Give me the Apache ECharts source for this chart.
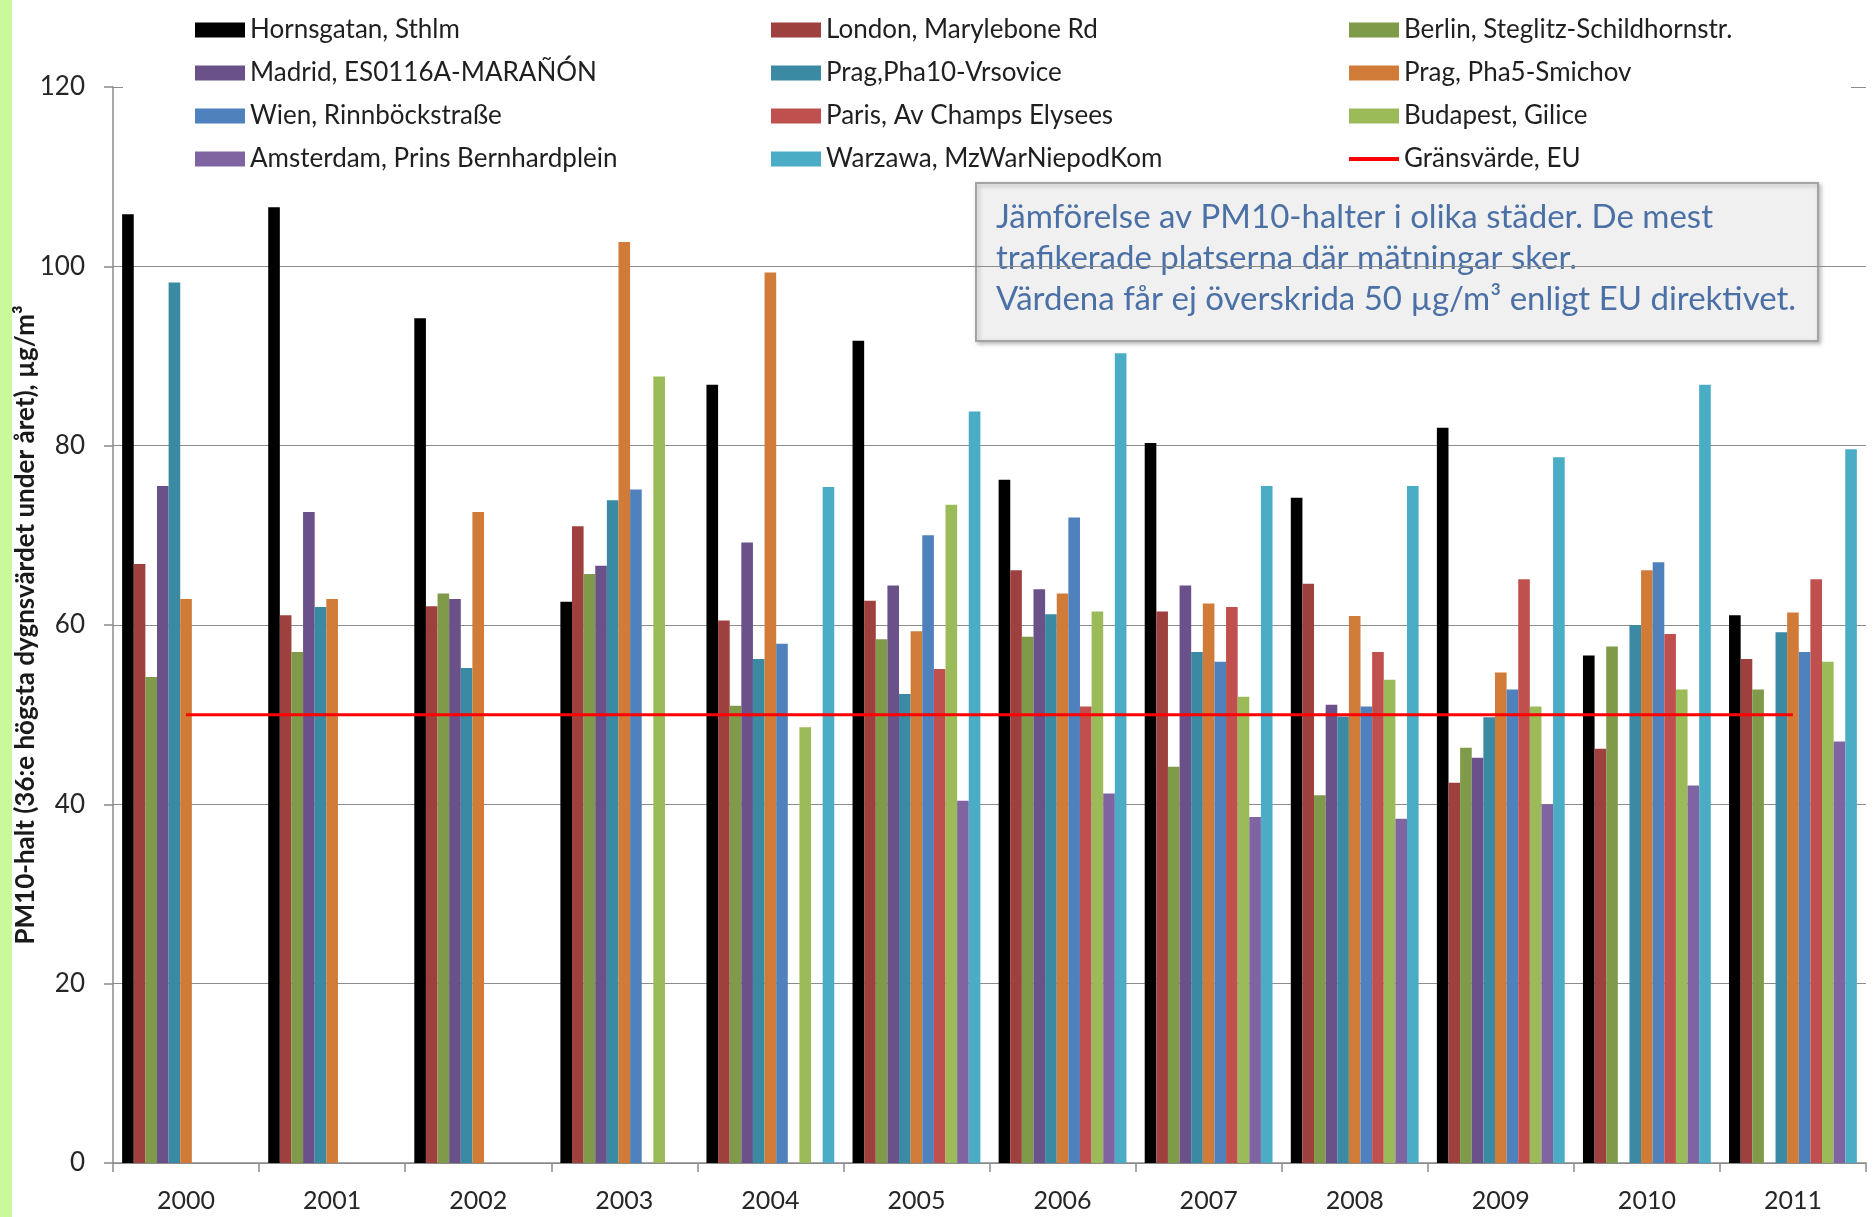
<!DOCTYPE html>
<html>
<head>
<meta charset="utf-8">
<script src="https://cdn.jsdelivr.net/npm/echarts@6/dist/echarts.min.js"></script>
<style>
  html, body { margin: 0; padding: 0; background: #fff; }
  #chart { width: 1874px; height: 1217px; }
</style>
</head>
<body>
<div id="chart"></div>
<script>
// PM10: 36th highest daily mean per year, µg/m³, at the most trafficked sites
const years = ['2000','2001','2002','2003','2004','2005','2006','2007','2008','2009','2010','2011'];

const hornsgatan = [105.8, 106.6, 94.2, 62.6, 86.8, 91.7, 76.2, 80.3, 74.2, 82.0, 56.6, 61.1];
const london     = [66.8, 61.1, 62.1, 71.0, 60.5, 62.7, 66.1, 61.5, 64.6, 42.4, 46.2, 56.2];
const berlin     = [54.2, 57.0, 63.5, 65.7, 51.0, 58.4, 58.7, 44.2, 41.0, 46.3, 57.6, 52.8];
const madrid     = [75.5, 72.6, 62.9, 66.6, 69.2, 64.4, 64.0, 64.4, 51.1, 45.2, null, null];
const pragPha10  = [98.2, 62.0, 55.2, 73.9, 56.2, 52.3, 61.2, 57.0, 49.8, 49.7, 60.0, 59.2];
const pragPha5   = [62.9, 62.9, 72.6, 102.7, 99.3, 59.3, 63.5, 62.4, 61.0, 54.7, 66.1, 61.4];
const wien       = [null, null, null, 75.1, 57.9, 70.0, 72.0, 55.9, 50.9, 52.8, 67.0, 57.0];
const paris      = [null, null, null, null, null, 55.1, 50.9, 62.0, 57.0, 65.1, 59.0, 65.1];
const budapest   = [null, null, null, 87.7, 48.6, 73.4, 61.5, 52.0, 53.9, 50.9, 52.8, 55.9];
const amsterdam  = [null, null, null, null, null, 40.4, 41.2, 38.6, 38.4, 40.0, 42.1, 47.0];
const warzawa    = [null, null, null, null, 75.4, 83.8, 90.3, 75.5, 75.5, 78.7, 86.8, 79.6];
const limitEU    = [50, 50, 50, 50, 50, 50, 50, 50, 50, 50, 50, 50];

const yTicks = [0, 20, 40, 60, 80, 100, 120];

const barSeries = [
  { name: 'Hornsgatan, Sthlm',               data: hornsgatan, color: '#000000' },
  { name: 'London, Marylebone Rd',           data: london,     color: '#9e413e' },
  { name: 'Berlin, Steglitz-Schildhornstr.', data: berlin,     color: '#7f9a48' },
  { name: 'Madrid, ES0116A-MARAÑÓN',         data: madrid,     color: '#6a5189' },
  { name: 'Prag,Pha10-Vrsovice',             data: pragPha10,  color: '#3a8aa3' },
  { name: 'Prag, Pha5-Smichov',              data: pragPha5,   color: '#d07c38' },
  { name: 'Wien, Rinnböckstraße',            data: wien,       color: '#4f81bd' },
  { name: 'Paris, Av Champs Elysees',        data: paris,      color: '#c0504d' },
  { name: 'Budapest, Gilice',                data: budapest,   color: '#9bbb59' },
  { name: 'Amsterdam, Prins Bernhardplein',  data: amsterdam,  color: '#8064a2' },
  { name: 'Warzawa, MzWarNiepodKom',         data: warzawa,    color: '#4bacc6' }
];
const limitName = 'Gränsvärde, EU';

const FONT = 'Lato, "Noto Sans", sans-serif';

const legendBase = {
  orient: 'vertical',
  top: 15,
  padding: 0,
  itemWidth: 50,
  itemHeight: 15,
  itemGap: 13,
  textStyle: { fontFamily: FONT, fontSize: 26, color: '#1f1f1f', lineHeight: 30 }
};
const col = (i) => barSeries.filter((_, k) => k % 3 === i).map(s => ({ name: s.name, icon: 'rect' }));

const chart = echarts.init(document.getElementById('chart'), null, { renderer: 'canvas' });

chart.setOption({
  backgroundColor: '#ffffff',
  animation: false,
  grid: { left: 113, right: 8, top: 87, bottom: 54, containLabel: false, outerBoundsMode: 'none' },
  legend: [
    Object.assign({}, legendBase, { left: 195, data: col(0) }),
    Object.assign({}, legendBase, { left: 771, data: col(1) }),
    Object.assign({}, legendBase, {
      left: 1347,
      data: col(2).concat([{
        name: limitName,
        itemStyle: { opacity: 0 },
        lineStyle: { color: '#ff0000', width: 4 }
      }])
    })
  ],
  xAxis: {
    type: 'category',
    data: years,
    boundaryGap: true,
    axisLine: { lineStyle: { color: '#8a8a8a', width: 1.5 } },
    axisTick: { show: true, length: 9, lineStyle: { color: '#8a8a8a', width: 1.5 } },
    axisLabel: { fontFamily: FONT, fontSize: 25, color: '#262626', margin: 25 }
  },
  yAxis: {
    type: 'value',
    min: yTicks[0],
    max: yTicks[yTicks.length - 1],
    interval: 20,
    name: 'PM10-halt (36:e högsta dygnsvärdet under året), µg/m³',
    nameLocation: 'middle',
    nameGap: 74,
    nameRotate: 90,
    nameMoveOverlap: false,
    nameTextStyle: { fontFamily: FONT, fontSize: 26, fontWeight: 'bold', color: '#1a1a1a' },
    axisLine: { show: true, lineStyle: { color: '#8a8a8a', width: 1.5 } },
    axisTick: { show: true, length: 9, lineStyle: { color: '#8a8a8a', width: 1.5 } },
    axisLabel: { fontFamily: FONT, fontSize: 26, color: '#262626', margin: 28 },
    splitLine: { show: true, lineStyle: { color: '#8c8c8c', width: 1.2 } }
  },
  series: barSeries.map(s => ({
    name: s.name,
    type: 'bar',
    data: s.data,
    barGap: '0%',
    barCategoryGap: '12.5%',
    itemStyle: { color: s.color },
    z: 2
  })).concat([{
    name: limitName,
    type: 'line',
    data: limitEU,
    symbol: 'none',
    lineStyle: { color: '#ff0000', width: 3 },
    itemStyle: { color: '#ff0000' },
    z: 5
  }]),
  graphic: [
    // light green strip along the left edge
    { type: 'rect', left: 0, top: 0, shape: { width: 12, height: 1217 }, style: { fill: '#c9f99a' }, z: 0 },
    // white backing behind the legend block
    { type: 'rect', left: 123, top: 80, shape: { width: 1728, height: 14 }, style: { fill: '#ffffff' }, z: 1 },
    // annotation box
    {
      type: 'group', left: 975, top: 182, z: 10,
      children: [
        {
          type: 'rect',
          shape: { width: 842, height: 158 },
          style: {
            fill: '#f0f0f0', stroke: '#a3a3a3', lineWidth: 2,
            shadowBlur: 4, shadowOffsetX: 2, shadowOffsetY: 2, shadowColor: 'rgba(0,0,0,0.25)'
          }
        },
        {
          type: 'text', left: 20, top: 14,
          style: {
            text: 'Jämförelse av PM10-halter i olika städer. De mest\ntrafikerade platserna där mätningar sker.\nVärdena får ej överskrida 50 µg/m³ enligt EU direktivet.',
            fontFamily: FONT, fontSize: 33, lineHeight: 41, fill: '#4a70a6'
          }
        }
      ]
    }
  ]
});
</script>
</body>
</html>
